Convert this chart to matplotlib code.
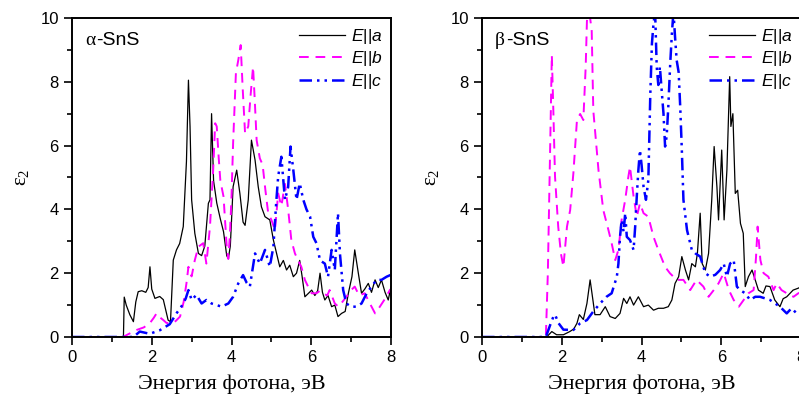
import numpy as np
import matplotlib
matplotlib.use("Agg")
import matplotlib.pyplot as plt
from matplotlib.ticker import MultipleLocator

plt.rcParams["font.family"] = "Liberation Sans"
plt.rcParams["mathtext.fontset"] = "custom"
plt.rcParams["mathtext.rm"] = "Liberation Serif"
plt.rcParams["mathtext.it"] = "Liberation Sans:italic"

# ── Spectra: (photon energy eV, eps2) ────────────────────────────────────────
alpha_a = [(0, 0), (1.0, 0), (1.29, 0), (1.31, 1.25), (1.36, 1.0), (1.45, 0.7), (1.54, 0.48),
           (1.6, 1.1), (1.66, 1.42), (1.75, 1.45), (1.85, 1.4), (1.91, 1.55), (1.955, 2.2),
           (2.0, 1.5), (2.08, 1.21), (2.2, 1.27), (2.29, 1.17), (2.41, 0.53), (2.47, 0.48),
           (2.54, 2.41), (2.62, 2.73), (2.7, 2.93), (2.79, 3.46), (2.87, 5.5), (2.92, 8.05),
           (2.96, 6.6), (3.0, 4.3), (3.08, 3.25), (3.17, 2.62), (3.25, 2.55), (3.33, 2.85),
           (3.42, 4.19), (3.46, 4.3), (3.5, 7.0), (3.55, 4.9), (3.63, 4.2), (3.72, 3.7),
           (3.8, 3.3), (3.88, 2.55), (3.92, 2.45), (3.97, 2.85), (4.04, 4.71), (4.13, 5.23),
           (4.21, 4.5), (4.29, 3.6), (4.34, 3.5), (4.42, 4.3), (4.5, 6.17), (4.59, 5.55),
           (4.67, 4.71), (4.75, 4.08), (4.84, 3.77), (4.96, 3.67), (5.05, 3.04), (5.13, 2.62),
           (5.21, 2.2), (5.3, 2.4), (5.38, 2.1), (5.46, 2.25), (5.55, 1.89), (5.63, 2.0),
           (5.71, 2.4), (5.77, 1.9), (5.84, 1.26), (5.93, 1.37), (6.01, 1.47), (6.09, 1.3),
           (6.16, 1.45), (6.22, 2.0), (6.28, 1.4), (6.34, 1.16), (6.42, 1.3), (6.51, 0.95),
           (6.59, 1.0), (6.67, 0.64), (6.76, 0.74), (6.85, 0.8), (6.93, 1.37), (7.02, 1.89),
           (7.09, 2.73), (7.18, 2.0), (7.26, 1.37), (7.34, 1.5), (7.43, 1.68), (7.51, 1.4),
           (7.6, 1.79), (7.68, 1.55), (7.76, 1.79), (7.85, 1.4), (7.93, 1.16), (8.0, 1.58)]

alpha_b = [(0, 0), (1.28, 0), (1.4, 0.08), (1.62, 0.22), (1.8, 0.3), (1.95, 0.43), (2.05, 0.6),
           (2.12, 0.74), (2.2, 0.62), (2.29, 0.53), (2.37, 0.44), (2.5, 0.43), (2.6, 0.5),
           (2.71, 0.64), (2.8, 1.1), (2.87, 1.68), (2.92, 2.2), (2.96, 2.0), (3.0, 1.9),
           (3.08, 2.41), (3.17, 2.83), (3.29, 2.94), (3.37, 2.3), (3.46, 3.46), (3.54, 5.23),
           (3.59, 6.7), (3.63, 6.6), (3.68, 5.6), (3.72, 4.9), (3.8, 4.4), (3.88, 2.83),
           (3.92, 2.45), (3.96, 3.2), (4.0, 4.4), (4.04, 6.07), (4.11, 8.27), (4.17, 8.68),
           (4.23, 9.15), (4.28, 7.8), (4.34, 6.38), (4.42, 6.6), (4.48, 7.6), (4.54, 8.47),
           (4.58, 7.5), (4.63, 6.17), (4.71, 5.6), (4.78, 5.4), (4.85, 4.6), (4.92, 3.88),
           (5.0, 3.67), (5.09, 3.35), (5.17, 4.5), (5.25, 4.1), (5.34, 4.8), (5.42, 4.0),
           (5.5, 3.04), (5.59, 2.62), (5.67, 2.4), (5.75, 2.2), (5.84, 1.79), (5.92, 1.58),
           (6.01, 1.37), (6.13, 1.37), (6.22, 1.45), (6.3, 1.37), (6.4, 1.3), (6.46, 1.47),
           (6.59, 1.05), (6.68, 0.95), (6.78, 1.1), (6.88, 1.26), (7.0, 1.47), (7.09, 1.58),
           (7.2, 1.3), (7.34, 1.37), (7.47, 1.05), (7.6, 0.74), (7.72, 0.95), (7.85, 1.2),
           (7.97, 1.47), (8.0, 1.5)]

alpha_c = [(0, 0), (1.54, 0), (1.7, 0.17), (1.95, 0.1), (2.2, 0.21), (2.45, 0.4), (2.62, 0.74),
           (2.74, 0.95), (2.85, 1.2), (2.92, 1.47), (3.0, 1.16), (3.12, 1.32), (3.25, 1.05),
           (3.37, 1.16), (3.5, 1.05), (3.63, 1.0), (3.75, 0.95), (3.92, 1.05), (4.04, 1.26),
           (4.17, 1.68), (4.29, 1.94), (4.38, 1.7), (4.46, 1.58), (4.59, 2.62), (4.71, 2.3),
           (4.84, 2.73), (4.96, 2.2), (5.05, 2.83), (5.12, 4.2), (5.17, 5.03), (5.25, 5.65),
           (5.34, 4.3), (5.42, 4.7), (5.48, 5.97), (5.55, 5.23), (5.63, 4.3), (5.71, 4.82),
           (5.8, 4.3), (5.88, 4.0), (5.97, 3.77), (6.05, 3.14), (6.13, 2.94), (6.22, 2.4),
           (6.34, 2.3), (6.42, 1.89), (6.51, 2.73), (6.59, 2.1), (6.67, 3.88), (6.72, 2.6),
           (6.8, 1.47), (6.88, 1.05), (7.0, 0.95), (7.13, 0.95), (7.26, 1.05), (7.39, 1.37),
           (7.51, 1.58), (7.64, 1.79), (7.76, 1.79), (7.89, 1.89), (8.0, 1.95)]

beta_a = [(0, 0), (1.62, 0), (1.75, 0.17), (1.87, 0.07), (2.04, 0.07), (2.2, 0.17), (2.3, 0.25),
          (2.38, 0.43), (2.44, 0.7), (2.54, 0.55), (2.63, 1.05), (2.71, 1.79), (2.78, 1.16),
          (2.83, 0.7), (2.96, 0.7), (3.09, 0.95), (3.21, 0.64), (3.34, 0.58), (3.46, 0.74),
          (3.55, 1.21), (3.63, 1.05), (3.71, 1.26), (3.8, 1.0), (3.92, 1.26), (4.05, 0.95),
          (4.17, 1.0), (4.3, 0.84), (4.42, 0.9), (4.55, 0.9), (4.67, 0.95), (4.76, 1.16),
          (4.84, 1.68), (4.93, 1.89), (5.01, 2.52), (5.1, 2.1), (5.18, 1.79), (5.26, 2.3),
          (5.35, 2.2), (5.4, 2.62), (5.47, 3.88), (5.52, 2.3), (5.6, 2.1), (5.68, 2.62),
          (5.76, 4.3), (5.82, 5.97), (5.89, 4.7), (5.93, 3.67), (6.01, 5.86), (6.07, 3.67),
          (6.14, 5.23), (6.21, 8.16), (6.24, 6.6), (6.29, 7.0), (6.35, 4.5), (6.41, 4.6),
          (6.48, 3.56), (6.55, 3.25), (6.6, 1.58), (6.68, 1.89), (6.77, 2.1), (6.85, 1.79),
          (6.93, 1.47), (7.05, 1.37), (7.12, 1.6), (7.22, 1.58), (7.34, 1.16), (7.47, 0.95),
          (7.55, 1.2), (7.64, 1.26), (7.8, 1.47), (7.93, 1.53), (8.0, 1.58)]

beta_b = [(0, 0), (1.6, 0), (1.65, 2.0), (1.71, 6.07), (1.75, 8.84), (1.79, 7.0), (1.83, 5.03),
          (1.91, 3.46), (1.98, 2.6), (2.04, 2.2), (2.13, 3.46), (2.21, 3.98), (2.29, 5.13),
          (2.38, 6.8), (2.46, 6.99), (2.54, 6.8), (2.6, 8.5), (2.63, 9.9), (2.67, 10.4),
          (2.75, 9.6), (2.79, 7.1), (2.92, 5.23), (3.04, 3.98), (3.17, 3.35), (3.25, 2.94),
          (3.34, 2.41), (3.42, 2.73), (3.5, 3.67), (3.59, 4.3), (3.67, 5.03), (3.71, 5.34),
          (3.8, 4.4), (3.88, 3.77), (3.96, 4.19), (4.05, 3.88), (4.17, 3.77), (4.3, 3.14),
          (4.42, 2.73), (4.59, 2.2), (4.71, 2.0), (4.88, 1.79), (5.05, 1.79), (5.22, 1.47),
          (5.38, 1.79), (5.55, 1.58), (5.68, 1.26), (5.81, 1.47), (5.93, 1.68), (6.06, 2.0),
          (6.19, 1.47), (6.31, 1.16), (6.44, 0.95), (6.56, 1.16), (6.68, 1.37), (6.81, 1.47),
          (6.87, 2.5), (6.91, 3.46), (6.98, 2.41), (7.06, 2.0), (7.18, 1.89), (7.31, 1.47),
          (7.39, 1.68), (7.51, 1.47), (7.64, 1.37), (7.81, 1.26), (7.93, 1.37), (8.0, 1.4)]

beta_c = [(0, 0), (1.6, 0), (1.71, 0.38), (1.79, 0.64), (1.83, 0.7), (1.92, 0.43), (2.04, 0.23),
          (2.29, 0.22), (2.46, 0.43), (2.63, 0.53), (2.79, 0.8), (2.96, 1.05), (3.12, 1.26),
          (3.25, 1.37), (3.38, 1.89), (3.42, 2.3), (3.46, 3.14), (3.5, 3.67), (3.55, 3.3),
          (3.59, 3.88), (3.63, 3.14), (3.71, 3.04), (3.8, 2.73), (3.84, 3.46), (3.88, 4.4),
          (3.92, 5.23), (3.96, 5.86), (4.0, 5.4), (4.05, 4.71), (4.11, 4.3), (4.17, 4.92),
          (4.22, 7.64), (4.26, 9.2), (4.3, 9.83), (4.34, 10.2), (4.38, 8.47), (4.42, 7.9),
          (4.46, 8.47), (4.5, 7.8), (4.55, 7.0), (4.59, 5.97), (4.63, 6.3), (4.67, 7.2),
          (4.72, 8.6), (4.76, 9.5), (4.8, 10.2), (4.84, 9.4), (4.88, 8.68), (4.93, 8.3),
          (4.97, 7.2), (5.01, 5.86), (5.05, 4.3), (5.14, 3.35), (5.26, 2.73), (5.35, 2.62),
          (5.47, 2.52), (5.6, 2.0), (5.72, 1.89), (5.85, 1.95), (5.97, 2.1), (6.06, 2.3),
          (6.14, 1.89), (6.22, 2.3), (6.31, 2.41), (6.39, 1.58), (6.47, 1.47), (6.6, 1.37),
          (6.72, 1.16), (6.85, 1.26), (6.97, 1.26), (7.1, 1.21), (7.22, 1.16), (7.35, 1.05),
          (7.47, 0.95), (7.64, 0.74), (7.76, 0.9), (7.89, 0.74), (8.0, 0.8)]

phases = ["α", "β"]
labels = [r"$E$||$a$", r"$E$||$b$", r"$E$||$c$"]

styles = [dict(color="black", lw=0.9, ls="-"),
          dict(color="#ff00ff", lw=1.4, ls=(0, (5, 3.5))),
          dict(color="#0000ff", lw=1.8, ls=(0, (5, 2, 1, 2, 1, 2)))]

fig = plt.figure(figsize=(7.99, 4.03), dpi=100)
ax_pos = [[0.0901, 0.1638, 0.3993, 0.7916], [0.6033, 0.1638, 0.3993, 0.7916]]

for pos, phase, curves in zip(ax_pos, phases,
                              [(alpha_a, alpha_b, alpha_c), (beta_a, beta_b, beta_c)]):
    ax = fig.add_axes(pos)
    for data, st, lab in zip(curves, styles, labels):
        e, eps = zip(*data)
        ax.plot(e, eps, label=lab, **st)
    ax.set_xlim(0, 8)
    ax.set_ylim(0, 10)
    ax.xaxis.set_major_locator(MultipleLocator(2))
    ax.xaxis.set_minor_locator(MultipleLocator(1))
    ax.yaxis.set_major_locator(MultipleLocator(2))
    ax.yaxis.set_minor_locator(MultipleLocator(1))
    ax.tick_params(which="both", direction="out", width=1.2, labelsize=12,
                   top=False, right=False)
    ax.tick_params(which="major", length=6)
    ax.tick_params(which="minor", length=3.5)
    for sp in ax.spines.values():
        sp.set_linewidth(1.4)
    ax.set_xlabel("Энергия фотона, эВ", fontfamily="Liberation Serif", fontsize=16,
                  labelpad=7)
    ax.set_ylabel(r"ε$_2$", fontfamily="Liberation Serif", fontsize=15, labelpad=6)
    ax.text(0.04, 0.955, phase, transform=ax.transAxes, fontfamily="Liberation Serif",
            fontsize=14, va="top", ha="left")
    ax.text(0.075, 0.955, "-SnS", transform=ax.transAxes, fontsize=14,
            va="top", ha="left")
    ax.legend(loc="upper right", frameon=False, fontsize=12.5, handlelength=2.7,
              handletextpad=0.3, labelspacing=0.2, borderaxespad=0.1,
              bbox_to_anchor=(1.0, 1.0))

fig.savefig("out.png", dpi=100)
